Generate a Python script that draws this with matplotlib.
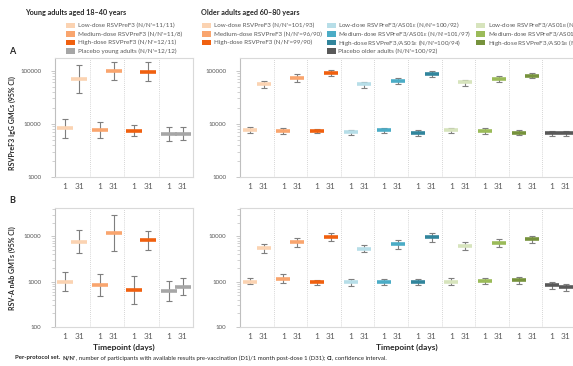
import matplotlib
matplotlib.use("Agg")
import matplotlib.pyplot as plt
from matplotlib.patches import Rectangle
from matplotlib.ticker import LogLocator, FixedLocator, NullFormatter, FuncFormatter

plt.rcParams['font.family'] = ['Lato', 'DejaVu Sans']

# ---------------- data ----------------
timepoints = ["1", "31"]

young_groups = ["Low-dose RSVPreF3", "Medium-dose RSVPreF3", "High-dose RSVPreF3",
                "Placebo young adults"]
young_n = ["11/11", "11/8", "12/11", "12/12"]
young_colors = ["#FBD3B2", "#F9A56E", "#F0600F", "#A6A6A6"]

older_groups = ["Low-dose RSVPreF3", "Medium-dose RSVPreF3", "High-dose RSVPreF3",
                "Low-dose RSVPreF3/AS01$_\\mathregular{E}$",
                "Medium-dose RSVPreF3/AS01$_\\mathregular{E}$",
                "High-dose RSVPreF3/AS01$_\\mathregular{E}$",
                "Low-dose RSVPreF3/AS01$_\\mathregular{B}$",
                "Medium-dose RSVPreF3/AS01$_\\mathregular{B}$",
                "High-dose RSVPreF3/AS01$_\\mathregular{B}$",
                "Placebo older adults"]
older_n = ["101/93", "96/90", "99/90", "100/92", "101/97", "100/94",
           "100/93", "101/95", "99/94", "100/92"]
older_colors = ["#FBD3B2", "#F9A56E", "#F0600F",
                "#B7DEE8", "#4BACC6", "#31859C",
                "#D7E4BD", "#9BBB59", "#76923C",
                "#595959"]

# Panel A: RSVPreF3 IgG GMCs (95% CI)
igg_young_d1 = [8200, 7600, 7400, 6500]
igg_young_d1_lo = [5500, 5400, 5800, 4800]
igg_young_d1_hi = [12500, 11000, 9500, 8700]
igg_young_d31 = [70000, 97000, 95000, 6500]
igg_young_d31_lo = [38000, 66000, 63000, 4900]
igg_young_d31_hi = [130000, 145000, 145000, 8700]

igg_older_d1 = [7600, 7300, 7300, 6900, 7600, 6800, 7600, 7300, 6800, 6600]
igg_older_d1_lo = [6700, 6300, 6600, 6100, 6700, 6000, 6700, 6500, 6100, 5900]
igg_older_d1_hi = [8600, 8400, 8000, 7800, 8500, 7700, 8500, 8300, 7600, 7400]
igg_older_d31 = [55000, 73000, 92000, 55000, 64000, 86000, 60000, 71000, 81000, 6600]
igg_older_d31_lo = [47000, 62000, 80000, 47000, 57000, 76000, 52000, 62000, 72000, 5900]
igg_older_d31_hi = [63000, 85000, 105000, 62000, 72000, 98000, 68000, 80000, 92000, 7400]

# Panel B: RSV-A nAb GMTs (95% CI)
nab_young_d1 = [1000, 830, 660, 620]
nab_young_d1_lo = [630, 480, 320, 370]
nab_young_d1_hi = [1600, 1500, 1350, 1030]
nab_young_d31 = [7600, 11600, 8100, 770]
nab_young_d31_lo = [4300, 4700, 5100, 520]
nab_young_d31_hi = [13600, 29000, 13100, 1200]

nab_older_d1 = [1000, 1170, 970, 970, 970, 970, 990, 1020, 1060, 830]
nab_older_d1_lo = [870, 950, 850, 800, 830, 830, 840, 880, 880, 690]
nab_older_d1_hi = [1220, 1440, 1100, 1170, 1150, 1150, 1200, 1200, 1250, 980]
nab_older_d31 = [5500, 7400, 9700, 5300, 6600, 9500, 6100, 7000, 8600, 750]
nab_older_d31_lo = [4300, 5900, 7700, 4400, 5300, 7600, 5100, 5700, 7000, 630]
nab_older_d31_hi = [6800, 9300, 11800, 6500, 8200, 11600, 7400, 8700, 10400, 880]

# ---------------- figure ----------------
W, H = 573, 366
fig = plt.figure(figsize=(W / 100, H / 100), dpi=100)

TXT = "#595959"
DARK = "#262626"
SPINE = "#D9D9D9"


def px_rect(left, top, right, bottom):
    return [left / W, 1 - bottom / H, (right - left) / W, (bottom - top) / H]


def draw_panel(ax, colors, d1, d1_lo, d1_hi, d31, d31_lo, d31_hi, ylim, ticks, bar_w):
    n = len(colors)
    offs = [0.29, 0.70]
    for i in range(n):
        for off, v, lo, hi in ((offs[0], d1[i], d1_lo[i], d1_hi[i]),
                               (offs[1], d31[i], d31_lo[i], d31_hi[i])):
            x = i + off
            ax.errorbar([x], [v], yerr=[[v - lo], [hi - v]], fmt="none",
                        ecolor="#7F7F7F", elinewidth=0.8, capsize=2.0,
                        capthick=0.8, zorder=2)
            ax.plot([x], [v], marker="_", markersize=bar_w, markeredgewidth=2.6,
                    color=colors[i], zorder=3, linestyle="none")
    for i in range(1, n):
        ax.axvline(i, color="#C8C8C8", lw=0.6, ls=(0, (1, 1.5)), zorder=1)
    ax.set_yscale("log")
    ax.set_ylim(*ylim)
    ax.set_xlim(0, n)
    ax.yaxis.set_major_locator(FixedLocator(ticks))
    ax.yaxis.set_major_formatter(FuncFormatter(lambda v, p: f"{int(round(v))}"))
    ax.yaxis.set_minor_locator(LogLocator(base=10, subs=range(2, 10)))
    ax.yaxis.set_minor_formatter(NullFormatter())
    xt = [i + o for i in range(n) for o in offs]
    ax.set_xticks(xt)
    ax.set_xticklabels(timepoints * n)
    ax.tick_params(axis="x", length=0, labelsize=6, colors=TXT, pad=4)
    ax.tick_params(axis="y", which="major", length=3, width=0.6, color="#BFBFBF",
                   labelsize=4.4, labelcolor=TXT, pad=7)
    ax.tick_params(axis="y", which="minor", length=2, width=0.5, color="#BFBFBF")
    for s in ax.spines.values():
        s.set_color(SPINE)
        s.set_linewidth(0.8)
    ax.spines["left"].set_color("#BFBFBF")


axA_y = fig.add_axes(px_rect(55, 58, 193, 177))
axA_o = fig.add_axes(px_rect(240, 58, 576, 177))
axB_y = fig.add_axes(px_rect(55, 208, 193, 327))
axB_o = fig.add_axes(px_rect(240, 208, 576, 327))

draw_panel(axA_y, young_colors, igg_young_d1, igg_young_d1_lo, igg_young_d1_hi,
           igg_young_d31, igg_young_d31_lo, igg_young_d31_hi, (1000, 173000),
           [1000, 10000, 100000], 11)
draw_panel(axA_o, older_colors, igg_older_d1, igg_older_d1_lo, igg_older_d1_hi,
           igg_older_d31, igg_older_d31_lo, igg_older_d31_hi, (1000, 173000),
           [1000, 10000, 100000], 10)
draw_panel(axB_y, young_colors, nab_young_d1, nab_young_d1_lo, nab_young_d1_hi,
           nab_young_d31, nab_young_d31_lo, nab_young_d31_hi, (100, 42000),
           [100, 1000, 10000], 11)
draw_panel(axB_o, older_colors, nab_older_d1, nab_older_d1_lo, nab_older_d1_hi,
           nab_older_d31, nab_older_d31_lo, nab_older_d31_hi, (100, 42000),
           [100, 1000, 10000], 10)

# axis titles
fig.text(12 / W, 1 - 123 / H, "RSVPreF3 IgG GMCs (95% CI)", rotation=90,
         ha="center", va="center", fontsize=5.0, fontweight="bold", color=DARK)
fig.text(12 / W, 1 - 268 / H, "RSV-A nAb GMTs (95% CI)", rotation=90,
         ha="center", va="center", fontsize=5.0, fontweight="bold", color=DARK)
fig.text(124 / W, 1 - 347 / H, "Timepoint (days)", ha="center", va="center",
         fontsize=6, fontweight="bold", color=DARK)
fig.text(407 / W, 1 - 347 / H, "Timepoint (days)", ha="center", va="center",
         fontsize=6, fontweight="bold", color=DARK)

# panel letters and headings
fig.text(9 / W, 1 - 52 / H, "A", ha="left", va="center", fontsize=6.5,
         fontweight="bold", color=DARK)
fig.text(9 / W, 1 - 200 / H, "B", ha="left", va="center", fontsize=6.5,
         fontweight="bold", color=DARK)
fig.text(25 / W, 1 - 13 / H, "Young adults aged 18–40 years", ha="left",
         va="center", fontsize=5.2, fontweight="bold", color=DARK)
fig.text(201 / W, 1 - 13 / H, "Older adults aged 60–80 years", ha="left",
         va="center", fontsize=5.2, fontweight="bold", color=DARK)


# legends
def legend_entry(x, y, color, label):
    fig.patches.append(Rectangle((x / W, 1 - (y + 2.7) / H), 9 / W, 5.4 / H,
                                 transform=fig.transFigure, facecolor=color,
                                 edgecolor="none", figure=fig))
    fig.text((x + 11.5) / W, 1 - y / H, label, ha="left", va="center",
             fontsize=4.5, color=TXT)


rows = [25.5, 34, 42.5, 51]
for k in range(4):
    legend_entry(66, rows[k], young_colors[k], f"{young_groups[k]} (N/N'={young_n[k]})")

legend_cols = [(202, [0, 1, 2]), (327, [3, 4, 5, 9]), (476, [6, 7, 8])]
for x, idxs in legend_cols:
    for r, k in enumerate(idxs):
        legend_entry(x, rows[r], older_colors[k], f"{older_groups[k]} (N/N'={older_n[k]})")

# footnote with bold terms
foot = [("Per-protocol set.", True), (" ", False), ("N/N'", True),
        (", number of participants with available results pre-vaccination (D1)/1 month "
         "post-dose 1 (D31); ", False), ("CI", True), (", confidence interval.", False)]
fig.canvas.draw()
renderer = fig.canvas.get_renderer()
x0 = 15
for s, b in foot:
    t = fig.text(x0 / W, 1 - 358 / H, s, ha="left", va="center", fontsize=4.3,
                 fontweight="bold" if b else "normal", color=DARK)
    bb = t.get_window_extent(renderer=renderer)
    x0 += bb.width if s.strip() else 2.0

fig.savefig("out.png", dpi=100)
